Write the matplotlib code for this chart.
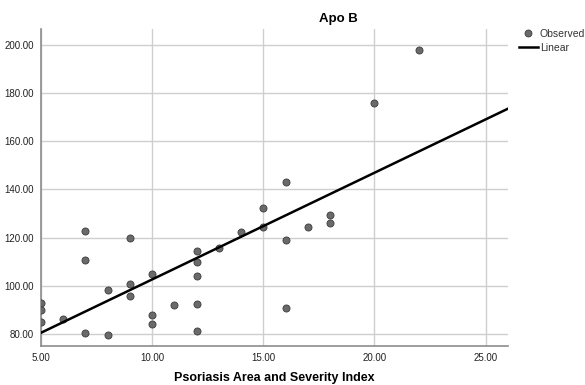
import numpy as np
import matplotlib.pyplot as plt
from matplotlib.lines import Line2D

plt.rcParams['font.family'] = ['Liberation Sans', 'DejaVu Sans']

# PASI score vs Apo B
pasi = [5, 5, 5, 6, 7, 7, 7, 8, 8, 9, 9, 9, 10, 10, 10, 11,
        12, 12, 12, 12, 12, 13, 14, 15, 15, 16, 16, 16, 17, 18, 18, 20, 22]
apob = [92.7, 90.0, 85.0, 86.1, 122.7, 110.6, 80.4, 98.1, 79.7, 120.0, 100.7, 95.8,
        105.0, 88.0, 84.0, 92.2, 114.4, 109.8, 104.1, 92.4, 81.4, 115.8, 122.4,
        132.4, 124.4, 142.9, 119.0, 90.9, 124.5, 129.5, 126.2, 175.7, 197.8]
x_ticks = [5, 10, 15, 20, 25]
y_ticks = [80, 100, 120, 140, 160, 180, 200]

fig = plt.figure(figsize=(5.85, 3.85), dpi=100)
ax = fig.add_axes([0.0701, 0.102, 0.7979, 0.8227])

ax.scatter(pasi, apob, s=26, c='#6a6a6a', edgecolors='#3c3c3c', linewidths=0.6, zorder=3)

slope, intercept = np.polyfit(pasi, apob, 1)
xs = np.array([5, 26])
ax.plot(xs, intercept + slope * xs, color='black', lw=1.8, zorder=4)

ax.set_xlim(5, 26)
ax.set_ylim(75.1, 206.6)
ax.set_xticks(x_ticks)
ax.set_yticks(y_ticks)
ax.set_xticklabels([f"{v:.2f}" for v in x_ticks])
ax.set_yticklabels([f"{v:.2f}" for v in y_ticks])
ax.tick_params(length=0, labelsize=7, colors='#222222', pad=5)
ax.grid(True, color='#cfcfcf', lw=1)
ax.set_axisbelow(True)
for s in ['top', 'right']:
    ax.spines[s].set_visible(False)
for s in ['left', 'bottom']:
    ax.spines[s].set_color('#8c8c8c')
    ax.spines[s].set_linewidth(1.2)

fig.text(338 / 585, 1 - 19 / 385, 'Apo B', ha='center', va='center',
         fontsize=9.5, fontweight='bold')
fig.text(274 / 585, 1 - 378 / 385, 'Psoriasis Area and Severity Index', ha='center',
         va='center', fontsize=9, fontweight='bold')

handles = [Line2D([], [], ls='none', marker='o', ms=5, mfc='#6a6a6a', mec='#3c3c3c', mew=0.6),
           Line2D([], [], color='black', lw=1.8)]
leg = fig.legend(handles, ['Observed', 'Linear'], loc='upper left',
                 bbox_to_anchor=(519 / 585, 1 - 29 / 385), frameon=False,
                 fontsize=7.5, handlelength=1.8, handletextpad=0.2, labelspacing=0.35,
                 borderpad=0, borderaxespad=0)
for t in leg.get_texts():
    t.set_color('#333333')

fig.savefig('out.png', dpi=100)
